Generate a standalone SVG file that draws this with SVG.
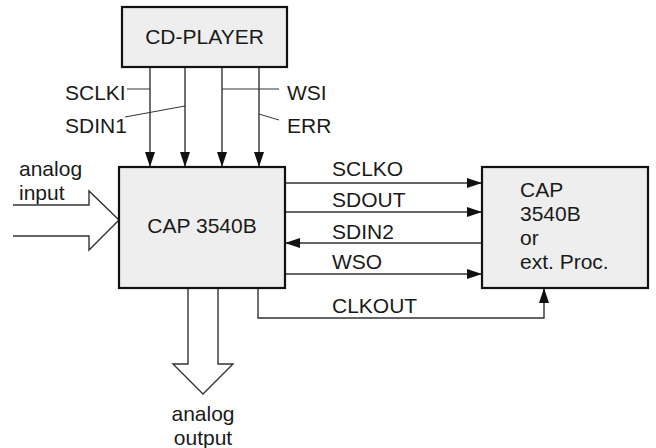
<svg xmlns="http://www.w3.org/2000/svg" width="656" height="448" viewBox="0 0 656 448">
<style>
text{font-family:"Liberation Sans",Arial,sans-serif;font-size:21px;fill:#1a1a1a}
.box{fill:#eeeeee;stroke:#111;stroke-width:2.2}
.ln{fill:none;stroke:#333;stroke-width:1.4}
.tk{fill:none;stroke:#333;stroke-width:1}
.hollow{fill:#fff;stroke:#333;stroke-width:1.4}
</style>
<defs>
<marker id="ah" markerUnits="userSpaceOnUse" markerWidth="16" markerHeight="11" refX="15" refY="5" orient="auto">
<path d="M0,0 L15,5 L0,10 z" fill="#111"/>
</marker>
</defs>
<g id="connectors">
<line class="ln" x1="150" y1="67" x2="150" y2="167" marker-end="url(#ah)"/>
<line class="ln" x1="185" y1="67" x2="185" y2="167" marker-end="url(#ah)"/>
<line class="ln" x1="222" y1="67" x2="222" y2="167" marker-end="url(#ah)"/>
<line class="ln" x1="259" y1="67" x2="259" y2="167" marker-end="url(#ah)"/>
<line class="tk" x1="127" y1="89" x2="150" y2="89"/>
<line class="tk" x1="125" y1="117" x2="185" y2="106"/>
<line class="tk" x1="222" y1="89" x2="279" y2="89"/>
<line class="tk" x1="259" y1="114" x2="279" y2="120"/>
<text x="65" y="100">SCLKI</text>
<text x="65" y="133">SDIN1</text>
<text x="287" y="100">WSI</text>
<text x="287" y="133">ERR</text>
<line class="ln" x1="285" y1="183" x2="482" y2="183" marker-end="url(#ah)"/>
<line class="ln" x1="285" y1="212" x2="482" y2="212" marker-end="url(#ah)"/>
<line class="ln" x1="482" y1="243" x2="285" y2="243" marker-end="url(#ah)"/>
<line class="ln" x1="285" y1="274" x2="482" y2="274" marker-end="url(#ah)"/>
<polyline class="ln" points="258,288 258,318 544,318 544,288" marker-end="url(#ah)"/>
<text x="332" y="176">SCLKO</text>
<text x="332" y="207">SDOUT</text>
<text x="332" y="239">SDIN2</text>
<text x="332" y="269">WSO</text>
<text x="332" y="313">CLKOUT</text>
<polyline class="hollow" points="13,205 89,205 89,191 119,220 89,250 89,236 13,236"/>
<text x="19" y="176">analog</text>
<text x="19" y="200">input</text>
<polyline class="hollow" points="188,288 188,364 173,364 203,394 233,364 218,364 218,288"/>
<text x="203" y="421" text-anchor="middle">analog</text>
<text x="203" y="445" text-anchor="middle">output</text>
</g>
<g id="cd-player">
<rect class="box" x="122" y="7" width="165" height="60"/>
<text x="204.5" y="44" text-anchor="middle">CD-PLAYER</text>
</g>
<g id="cap-main">
<rect class="box" x="119" y="167" width="166" height="121"/>
<text x="202" y="233" text-anchor="middle">CAP 3540B</text>
</g>
<g id="cap-ext">
<rect class="box" x="482" y="167" width="166" height="121"/>
<text x="520" y="197">CAP</text>
<text x="520" y="221">3540B</text>
<text x="520" y="245">or</text>
<text x="520" y="269">ext. Proc.</text>
</g>
</svg>
